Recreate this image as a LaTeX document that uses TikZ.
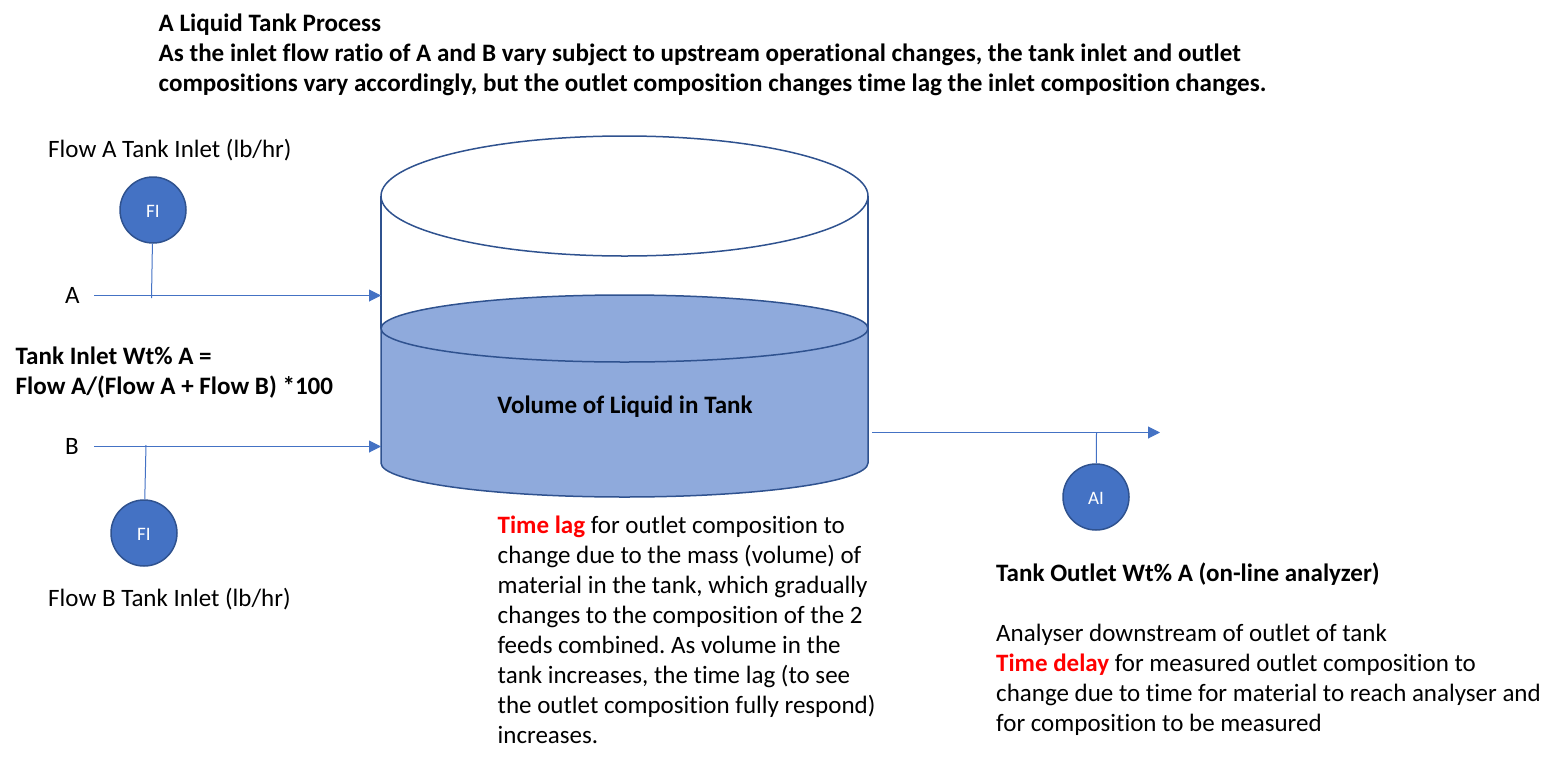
\documentclass[tikz,border=0pt]{standalone}
\usepackage{fontspec}
\setmainfont[RawFeature=-liga]{Carlito}
\usetikzlibrary{calc,positioning,arrows.meta}
\definecolor{tankline}{HTML}{2F528F}
\definecolor{tankfill}{HTML}{8FAADC}
\definecolor{instfill}{HTML}{4472C4}
\tikzset{
  wire/.style={color=instfill, line width=1pt},
  flow/.style={wire, -{Triangle[length=12pt,width=12pt]}},
  inst/.style={circle, draw=tankline, fill=instfill, line width=1.5pt, minimum size=66pt, inner sep=0pt, text=white, text height=15pt, text depth=0pt, font=\fontsize{19}{22}\selectfont},
  lbl/.style={inner sep=0pt, anchor=base west, font=\fontsize{25}{30}\selectfont},
  para/.style={inner sep=0pt, anchor=north west, align=left, font=\fontsize{25}{30}\selectfont},
  boldpara/.style={para, font=\fontsize{25.08}{30}\selectfont\bfseries},
  tank/.style={draw=tankline, line width=1.5pt}
}
\begin{document}
\frenchspacing
\begin{tikzpicture}[x=1pt,y=-1pt]
  \useasboundingbox (0,0) rectangle (1563,766);
  % tank
  \draw[tank,fill=tankfill] (381,328) -- (381,463) arc[start angle=180,end angle=0,x radius=243.5,y radius=34] -- (868,328);
  \draw[tank] (381,196) -- (381,328) (868,196) -- (868,328);
  \draw[tank,fill=tankfill] (624.5,328.5) ellipse[x radius=243.5,y radius=33.5];
  \draw[tank,fill=white] (624.5,196) ellipse[x radius=243.5,y radius=60];
  \node[boldpara,anchor=base] (tanktxt) at (625,413) {Volume of Liquid in Tank};
  % title
  \node[boldpara] (title) at (158.5,14) {A Liquid Tank Process\\As the inlet flow ratio of A and B vary subject to upstream operational changes, the tank inlet and outlet\\compositions vary accordingly, but the outlet composition changes time lag the inlet composition changes.};
  % inlets
  \node[lbl] (flowa) at (48,157) {Flow A Tank Inlet (lb/hr)};
  \node[inst] (fia) at (153,210) {FI};
  \node[lbl] (a) at (65,303) {A};
  \coordinate (astart) at (94,295.5);
  \coordinate (aend) at (381,295.5);
  \coordinate (atap) at (151.5,298);
  \draw[flow] (astart) -- (aend);
  \draw[wire] (fia) -- (atap);
  \node[boldpara] (inlet) at (15.5,347) {Tank Inlet Wt\% A =\\Flow A/(Flow A + Flow B) *100};
  \node[lbl] (b) at (65,454.5) {B};
  \coordinate (bstart) at (94,446.5);
  \coordinate (bend) at (381,446.5);
  \coordinate (btap) at (146,445);
  \draw[flow] (bstart) -- (bend);
  \node[inst] (fib) at (144,533) {FI};
  \draw[wire] (fib) -- (btap);
  \node[lbl] (flowb) at (48,606) {Flow B Tank Inlet (lb/hr)};
  % outlet
  \coordinate (ostart) at (872,432.5);
  \coordinate (oend) at (1160,432.5);
  \coordinate (otap) at (1096.5,432.5);
  \draw[flow] (ostart) -- (oend);
  \node[inst] (ai) at (1096,497) {AI};
  \draw[wire] (ai) -- (otap);
  % notes
  \node[para] (lag) at (497.5,516) {\textcolor{red}{\textbf{Time lag}} for outlet composition to\\change due to the mass (volume) of\\material in the tank, which gradually\\changes to the composition of the 2\\feeds combined. As volume in the\\tank increases, the time lag (to see\\the outlet composition fully respond)\\increases.};
  \node[boldpara] (outlet) at (996,563) {Tank Outlet Wt\% A (on-line analyzer)};
  \node[para] (delay) at (996,624) {Analyser downstream of outlet of tank\\\textcolor{red}{\textbf{Time delay}} for measured outlet composition to\\change due to time for material to reach analyser and\\for composition to be measured};
\end{tikzpicture}
\end{document}
